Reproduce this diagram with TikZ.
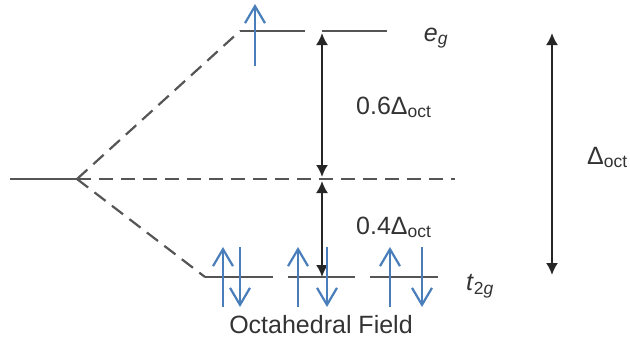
\documentclass[tikz,border=0pt]{standalone}
\usepackage{fontspec}
\setmainfont{Liberation Sans}
\usetikzlibrary{arrows.meta}
\definecolor{levelgray}{HTML}{555555}
\definecolor{spinblue}{HTML}{4A7EBB}
\tikzset{level/.style={draw=levelgray,line width=2.4pt},
 split/.style={draw=levelgray,line width=2.2pt,dash pattern=on 14pt off 8pt},
 gap/.style={draw=black!85,line width=2pt,{Latex[length=12pt,width=12pt]}-{Latex[length=12pt,width=12pt]}},
 spin/.style={draw=spinblue,line width=2.2pt,-{Straight Barb[length=17pt,width=20pt,line width=2.2pt]}},
 lbl/.style={font=\fontsize{25}{28}\selectfont,text=black!80,inner sep=0pt}}

\begin{document}
\begin{tikzpicture}[x=1pt,y=-1pt]
\useasboundingbox (0,0) rectangle (630,343);
\coordinate (ion) at (10,179);\coordinate (fork) at (77,179);
\coordinate (egL) at (240,31);\coordinate (egA) at (305,31);\coordinate (egB) at (322,31);\coordinate (egR) at (387,31);
\coordinate (bary) at (455,179);\coordinate (t2L) at (205,277);
\draw[level] (ion)--(fork);
\draw[split] (fork)--(egL);\draw[split] (fork)--(t2L);\draw[split] (fork)--(bary);
\draw[level] (egL)--(egA);\draw[level] (egB)--(egR);
\foreach \a/\b [count=\i] in {205/273,288/355,370/438}{
\coordinate (t\i a) at (\a,277);\coordinate (t\i b) at (\b,277);\draw[level] (t\i a)--(t\i b);}
% splitting energies
\coordinate (m1) at (322,33);\coordinate (m2) at (322,177);\coordinate (m3) at (322,181);\coordinate (m4) at (322,277);
\draw[gap] (m1)--(m2);\draw[gap] (m3)--(m4);
\coordinate (d1) at (552,33);\coordinate (d2) at (552,275);\draw[gap] (d1)--(d2);
% electrons
\coordinate (e0a) at (255,66);\coordinate (e0b) at (255,4);\draw[spin] (e0a)--(e0b);
\foreach \u/\d [count=\i] in {223/240,298/327,390/422}{
\coordinate (u\i a) at (\u,307);\coordinate (u\i b) at (\u,247);\draw[spin] (u\i a)--(u\i b);
\coordinate (v\i a) at (\d,247);\coordinate (v\i b) at (\d,307);\draw[spin] (v\i a)--(v\i b);}
% labels
\node[lbl] (eg) at (436,38) {\textit{e}\textsubscript{\textit{g}}};
\node[lbl] (t2g) at (480,286) {\textit{t}\textsubscript{2\textit{g}}};
\node[lbl,anchor=base west] (six) at (356,114) {0.6Δ\textsubscript{oct}};
\node[lbl,anchor=base west] (four) at (356,234) {0.4Δ\textsubscript{oct}};
\node[lbl,anchor=base west] (full) at (587,164) {Δ\textsubscript{oct}};
\node[lbl] (title) at (321,325) {Octahedral Field};
\end{tikzpicture}
\end{document}
